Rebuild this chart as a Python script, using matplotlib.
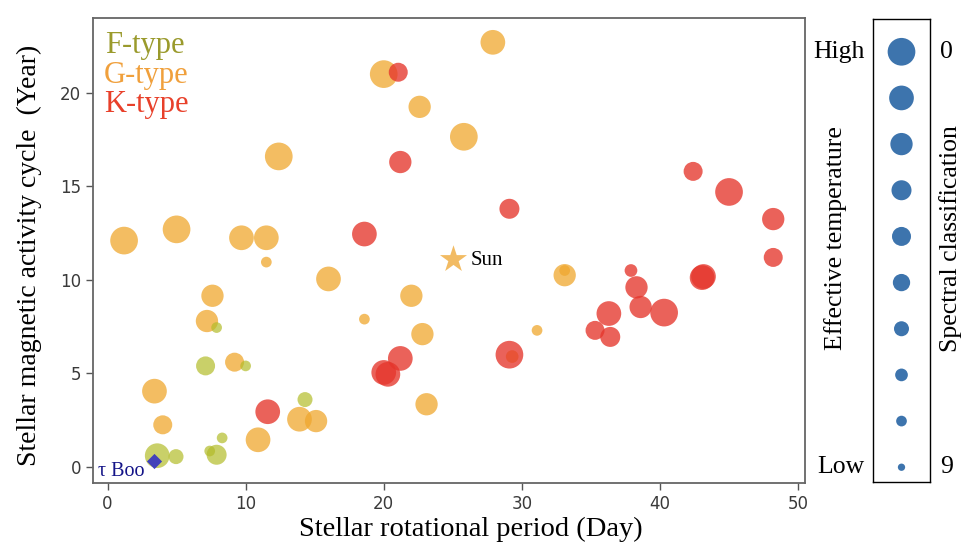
import matplotlib
matplotlib.use("Agg")
import matplotlib.pyplot as plt
import numpy as np

# stars: rotational period (day), activity cycle (year), spectral subclass (0-9)
f_period = [3.6, 4.96, 7.9, 7.4, 8.3, 14.3, 7.1, 10.0, 7.9]
f_cycle = [0.6, 0.55, 0.65, 0.85, 1.55, 3.6, 5.4, 5.4, 7.45]
f_sub = [1, 6, 3, 8, 8, 6, 4, 8, 8]

g_period = [1.2, 5.0, 9.7, 11.5, 12.4, 11.5, 7.6, 7.2, 9.2, 3.4, 4.0, 10.9, 13.9, 15.1,
            16.0, 18.6, 20.0, 22.6, 25.8, 27.9, 22.0, 22.8, 23.1, 31.1, 33.1, 33.1, 29.3]
g_cycle = [12.1, 12.7, 12.25, 12.25, 16.6, 10.95, 9.15, 7.8, 5.6, 4.05, 2.25, 1.45, 2.55, 2.45,
           10.05, 7.9, 21.0, 19.25, 17.65, 22.7, 9.15, 7.1, 3.35, 7.3, 10.25, 10.5, 5.9]
g_sub = [0, 0, 1, 1, 0, 8, 2, 2, 4, 1, 4, 1, 1, 2, 1, 8, 0, 2, 0, 1, 2, 2, 2, 8, 2, 8, 7]

k_period = [21.05, 21.2, 29.1, 18.6, 42.4, 45.0, 48.2, 48.2, 43.05, 43.15, 37.9, 38.3, 38.6,
            40.3, 36.3, 35.3, 36.4, 29.1, 21.2, 20.0, 20.3, 11.6]
k_cycle = [21.1, 16.3, 13.8, 12.45, 15.8, 14.7, 13.25, 11.2, 10.12, 10.18, 10.5, 9.6, 8.55,
           8.25, 8.2, 7.3, 6.95, 6.0, 5.8, 5.05, 4.95, 2.95]
k_sub = [4, 2, 3, 1, 4, 0, 2, 4, 1, 1, 7, 2, 2, 0, 1, 4, 3, 0, 1, 1, 1, 1]

sun = (25.0, 11.1)
tau_boo = (3.4, 0.3)

subclasses = list(range(10))
# marker diameter in pixels for each subclass (as in the size key)
diam_px = [27.7, 24.7, 22.3, 20.0, 19.0, 17.3, 15.0, 12.7, 10.7, 7.3]


def sizes(sub):
    return [(diam_px[s] * 0.72) ** 2 for s in sub]


serif = "Liberation Serif"

fig = plt.figure(figsize=(9.7, 5.56), dpi=100)
ax = fig.add_axes([93 / 970, 73 / 556, 712 / 970, 465 / 556])

ax.scatter(g_period, g_cycle, s=sizes(g_sub), c="#efa72e", alpha=0.75, linewidths=0)
ax.scatter(k_period, k_cycle, s=sizes(k_sub), c="#e5362c", alpha=0.78, linewidths=0)
ax.scatter(f_period, f_cycle, s=sizes(f_sub), c="#b3bc2a", alpha=0.7, linewidths=0)

ax.scatter([sun[0]], [sun[1]], marker="*", s=420, c="#f0b048", alpha=0.85, linewidths=0)
ax.annotate("Sun", sun, xytext=(13, -1), textcoords="offset points",
            ha="left", va="center", fontsize=15, family=serif, color="black")

ax.scatter([tau_boo[0]], [tau_boo[1]], marker="D", s=60, c="#3333c4", alpha=0.9, linewidths=0)
ax.annotate("τ Boo", tau_boo, xytext=(-41, -7), textcoords="offset points",
            ha="left", va="center", fontsize=14.5, family=serif, color="#141488")

ax.text(0.017, 0.94, "F-type", transform=ax.transAxes, fontsize=22, family=serif,
        color="#9a9a2c", va="center", ha="left")
ax.text(0.015, 0.876, "G-type", transform=ax.transAxes, fontsize=22, family=serif,
        color="#f0a03c", va="center", ha="left")
ax.text(0.015, 0.814, "K-type", transform=ax.transAxes, fontsize=22, family=serif,
        color="#e8402a", va="center", ha="left")

ax.set_xlim(-1.05, 50.5)
ax.set_ylim(-0.86, 24.0)
ax.set_xticks([0, 10, 20, 30, 40, 50])
ax.set_yticks([0, 5, 10, 15, 20])
ax.tick_params(length=5, width=1, color="#555555", labelsize=12, labelcolor="#3a3a3a")
for sp in ax.spines.values():
    sp.set_color("#666666")
    sp.set_linewidth(1.3)

ax.set_xlabel("Stellar rotational period (Day)", fontsize=20.5, family=serif, labelpad=3)
ax.xaxis.label.set_x(0.531)
ax.set_ylabel("Stellar magnetic activity cycle  (Year)", fontsize=20, family=serif, labelpad=13)
ax.yaxis.label.set_y(0.49)

# size key on the right
lax = fig.add_axes([873 / 970, 74 / 556, 57 / 970, 463 / 556])
lax.scatter([0] * 10, [9 - s for s in subclasses], s=sizes(subclasses), c="#3d74ad",
            linewidths=0)
lax.set_xlim(-1, 1)
lax.set_ylim(-0.32, 9.71)
lax.set_xticks([])
lax.set_yticks([])
for sp in lax.spines.values():
    sp.set_color("black")
    sp.set_linewidth(1)

fig.text(865 / 970, 1 - 52 / 556, "High", ha="right", va="center", fontsize=18.5, family=serif)
fig.text(865 / 970, 1 - 467 / 556, "Low", ha="right", va="center", fontsize=18.5, family=serif)
fig.text(940 / 970, 1 - 52 / 556, "0", ha="left", va="center", fontsize=18.5, family=serif)
fig.text(940 / 970, 1 - 467 / 556, "9", ha="left", va="center", fontsize=18.5, family=serif)
fig.text(836 / 970, 1 - 238 / 556, "Effective temperature", rotation=90, ha="center",
         va="center", fontsize=18.5, family=serif)
fig.text(951 / 970, 1 - 239 / 556, "Spectral classification", rotation=90, ha="center",
         va="center", fontsize=18.5, family=serif)

fig.savefig("out.png", dpi=100)
